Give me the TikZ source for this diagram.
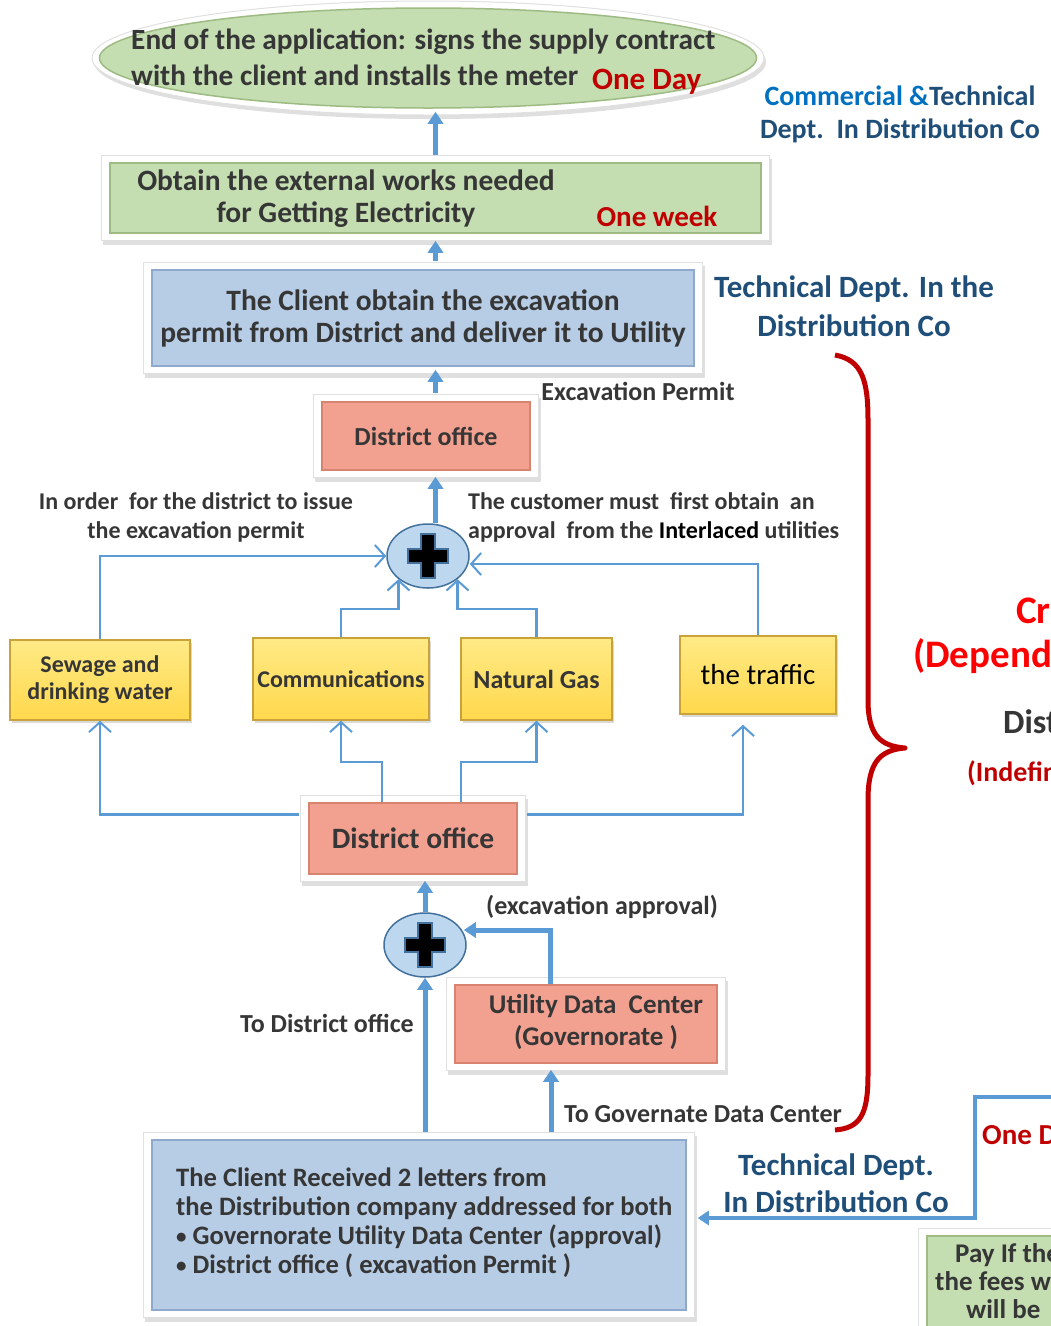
\documentclass[tikz,border=0pt]{standalone}
\usepackage{fontspec}
\setmainfont{Carlito}
\usetikzlibrary{arrows.meta,calc,shapes.geometric,shadows,backgrounds}

\definecolor{txtgray}{HTML}{363636}
\definecolor{deptblue}{HTML}{1F4E79}
\definecolor{commblue}{HTML}{0070C0}
\definecolor{linkblue}{HTML}{5B9BD5}
\definecolor{timered}{HTML}{C00000}
\definecolor{greenfill}{HTML}{C4DDB1}
\definecolor{greenedge}{HTML}{9DBB82}
\definecolor{bluefill}{HTML}{B7CDE6}
\definecolor{blueedge}{HTML}{8EA9CB}
\definecolor{salmonfill}{HTML}{F2A08F}
\definecolor{salmonedge}{HTML}{D88270}
\definecolor{yellowtop}{HTML}{FFEA86}
\definecolor{yellowbot}{HTML}{FFD84C}
\definecolor{yellowedge}{HTML}{C9A33A}
\definecolor{plusfill}{HTML}{BDD7EE}
\definecolor{plusedge}{HTML}{41719C}

\newcommand\fsz[2]{\fontsize{#1}{#2}\selectfont}
\newcommand\smallbullet{\raisebox{1.5pt}{\fsz{21}{21}\textbullet}}

\begin{document}
\begin{tikzpicture}[x=1pt,y=-1pt,
  every node/.style={text=txtgray, font=\bfseries, inner sep=0pt},
  box/.style={rectangle, line width=1.5pt},
  greenbox/.style={box, fill=greenfill, draw=greenedge},
  bluebox/.style={box, fill=bluefill, draw=blueedge},
  salmonbox/.style={box, fill=salmonfill, draw=salmonedge},
  yellowbox/.style={box, top color=yellowtop, bottom color=yellowbot, draw=yellowedge,
    drop shadow={opacity=.3,shadow xshift=2pt,shadow yshift=-3pt}},
  plusnode/.style={ellipse, minimum width=82pt, minimum height=64pt,
    fill=plusfill, draw=plusedge, line width=1.5pt,
    path picture={\draw[shift={(path picture bounding box.center)},
      fill=black, draw=plusedge, line width=1.5pt]
      (-7,-22) -- (7,-22) -- (7,-7) -- (20,-7) -- (20,7) -- (7,7) -- (7,22)
      -- (-7,22) -- (-7,7) -- (-20,7) -- (-20,-7) -- (-7,-7) -- cycle;}},
  frame/.style={fill=white, draw=black!12, line width=1pt,
    drop shadow={opacity=.25,shadow xshift=2pt,shadow yshift=-4pt}},
  bodytxt/.style={font=\bfseries\fsz{29.5}{32}},
  smalltxt/.style={font=\bfseries\fsz{24}{29}},
  notetxt/.style={font=\bfseries\fsz{26}{30}},
  depttxt/.style={font=\bfseries\fsz{31}{39}, text=deptblue},
  timetxt/.style={font=\bfseries\fsz{29}{32}, text=timered},
  bigarrow/.style={draw=linkblue, line width=5pt, -{Triangle[length=12pt,width=15pt]}},
  thinarrow/.style={draw=linkblue, line width=2.2pt,
    -{Straight Barb[length=10pt,width=22pt,line width=2pt]}},
  ]
  \useasboundingbox (0,0) rectangle (1051,1326);
  \clip (0,0) rectangle (1051,1326);

  % end of the application
  \node[ellipse, minimum width=657pt, minimum height=100pt, fill=greenfill,
    draw=greenedge, line width=1.5pt] (apply) at (428,58) {};
  \node[align=left, anchor=west, font=\bfseries\fsz{29.3}{36}] (applytxt) at (131,62)
    {End of the application: signs the supply contract\\with the client and installs the meter\hspace{14pt}\textcolor{timered}{\fsz{31}{36}\raisebox{-4pt}{One Day}}};

  % external works
  \node[greenbox, minimum width=651pt, minimum height=70pt] (works) at (435.5,198) {};
  \node[bodytxt, align=center] (workstxt) at (346,199)
    {Obtain the external works needed\\for Getting Electricity};
  \node[timetxt] (workstime) at (657,216) {One week};

  % excavation permit
  \node[bluebox, bodytxt, minimum width=542pt, minimum height=96pt, align=center] (permit) at (423,318)
    {The Client obtain the excavation\\permit from District and deliver it to Utility};
  \node[salmonbox, minimum width=208pt, minimum height=68pt, font=\bfseries\fsz{26}{30}] (dist1) at (426,436) {District office};
  \node[notetxt] (permitlbl) at (638,391) {Excavation Permit};

  \node[plusnode] (plus1) at (428,556) {};
  \node[smalltxt, align=center] (ordertxt) at (196,517)
    {In order\ \ for the district to issue\\the excavation permit};
  \node[smalltxt, align=left, anchor=west] (custtxt) at (468,517)
    {The customer must\ \ first obtain\ \ an\\approval\ \ from the \textcolor{black}{Interlaced} utilities};

  % interlaced utilities
  \node[yellowbox, minimum width=180pt, minimum height=80pt, align=center, font=\bfseries\fsz{24}{27}] (sewage) at (100,680) {Sewage and\\drinking water};
  \node[yellowbox, minimum width=176pt, minimum height=82pt, font=\bfseries\fsz{24}{27}] (comm) at (341,679) {Communications};
  \node[yellowbox, minimum width=151pt, minimum height=82pt, font=\bfseries\fsz{26}{30}] (gas) at (536.5,679) {Natural Gas};
  \node[yellowbox, minimum width=156pt, minimum height=78pt, font=\fsz{29}{32}, text=black] (traffic) at (758,675) {the traffic};

  \node[salmonbox, minimum width=208pt, minimum height=71pt, font=\bfseries\fsz{29.5}{32}] (dist2) at (413,838.5) {District office};

  % approval
  \node[plusnode] (plus2) at (425,945) {};
  \node[notetxt] (apprlbl) at (602,907) {(excavation approval)};
  \node[salmonbox, minimum width=262pt, minimum height=78pt] (udc) at (586,1024) {};
  \node[align=center, font=\bfseries\fsz{27}{32}] (udctxt) at (596,1022) {Utility Data\ \ Center\\(Governorate )};
  \node[notetxt] (distlbl) at (327,1023) {To District office};
  \node[notetxt] (govlbl) at (703,1114) {To Governate Data Center};

  \node[bluebox, minimum width=534pt, minimum height=170pt] (letters) at (419,1225) {};
  \node[align=left, anchor=west, font=\bfseries\fsz{26.6}{29}] (letterstxt) at (176,1223)
    {The Client Received 2 letters from\\the Distribution company addressed for both\\\smallbullet\ Governorate Utility Data Center (approval)\\\smallbullet\ District office ( excavation Permit )};

  % departments
  \node[font=\bfseries\fsz{28}{33}, text=deptblue, align=center] (commdept) at (900,114)
    {\textcolor{commblue}{Commercial \&}Technical\\Dept.\ \ In Distribution Co};
  \node[depttxt, align=center] (techdept) at (854,306) {Technical Dept. In the\\Distribution Co};
  \node[depttxt, font=\bfseries\fsz{31}{37}, align=center] (techdept2) at (836,1183) {Technical Dept.\\In Distribution Co};

  % right hand side
  \node[anchor=west, font=\bfseries\fsz{39}{44}, text=red] (crit) at (1016,610) {Critical Path};
  \node[anchor=west, font=\bfseries\fsz{39}{44}, text=red] (depend) at (913,656) {(Dependent on};
  \node[anchor=west, font=\bfseries\fsz{34}{40}] (distr) at (1003,722) {District};
  \node[anchor=west, font=\bfseries\fsz{28}{34}, text=timered] (indef) at (967,773) {(Indefinite)};
  \node[anchor=west, timetxt] (oneday) at (982,1137) {One Day};
  \node[greenbox, minimum width=170pt, minimum height=110pt, anchor=north west] (pay) at (926,1235) {};
  \node[anchor=north west, align=left, font=\bfseries\fsz{27}{28}] (paytxt) at (935,1243)
    {\hspace*{20pt}Pay If there are\\the fees which\\\hspace*{31pt}will be};

  % brace
  \draw[timered, line width=5pt, line join=round] (835,355) .. controls (862,360) and (868,380) .. (868,420)
    -- (868,700) .. controls (868,735) and (880,746) .. (905,748)
    .. controls (880,750) and (868,762) .. (868,800)
    -- (868,1075) .. controls (868,1115) and (860,1128) .. (835,1130);

  % main chain
  \draw[bigarrow, shorten <=7pt, shorten >=3pt] (works.north) -- (works.north |- apply.south);
  \draw[bigarrow, shorten <=8pt, shorten >=7pt] (permit.north -| works.south) -- (works.south);
  \draw[bigarrow, shorten <=8pt, shorten >=3pt] (dist1.north -| works.south) -- (permit.south -| works.south);
  \draw[bigarrow, shorten >=6pt] (plus1.north -| works.south) -- (dist1.south -| works.south);

  % utilities to the district
  \draw[thinarrow] (sewage.north) |- (plus1.west);
  \draw[thinarrow] (comm.north) -- ++(0,-28) -| (plus1.south west);
  \draw[thinarrow] (gas.north) -- ++(0,-28) -| (plus1.south east);
  \draw[thinarrow] (traffic.north) |- ($(plus1.east)+(0,8)$);

  % district office to the utilities
  \draw[thinarrow, shorten <=9pt] ($(dist2.west)+(0,-24)$) -| (sewage.south);
  \draw[thinarrow] ($(dist2.north)+(-31,0)$) -- ++(0,-40) -| (comm.south);
  \draw[thinarrow] ($(dist2.north)+(48,0)$) -- ++(0,-40) -| (gas.south);
  \draw[thinarrow, shorten <=9pt, shorten >=10pt] ($(dist2.east)+(0,-24)$) -| ($(traffic.south)+(-15,0)$);

  \draw[bigarrow, shorten >=6pt] (plus2.north) -- (plus2.north |- dist2.south);
  \draw[bigarrow] ($(udc.north)+(-36,0)$) |- ($(plus2.east)+(-3,-15)$);
  \draw[bigarrow, shorten <=7pt] (letters.north -| plus2.south) -- (plus2.south);
  \draw[bigarrow, shorten <=7pt, shorten >=6pt] ($(letters.north)+(132,0)$) -- ($(udc.south)+(-35,0)$);

  % back from the fees
  \coordinate (feesrc) at (1060,1097);
  \coordinate (feecorner) at (975,1218);
  \draw[draw=linkblue, line width=4pt, -{Triangle[length=11pt,width=14pt]}]
    (feesrc) -| (feecorner) -- ($(letters.east)+(11,-7)$);

  % white frames
  \begin{scope}[on background layer]
    \filldraw[frame] (apply.center) ellipse [x radius=336pt, y radius=57pt];
    \foreach \n in {works,permit,dist1,dist2,udc,letters,pay}
      \filldraw[frame] ($(\n.south west)+(-8pt,-7pt)$) rectangle ($(\n.north east)+(8pt,7pt)$);
  \end{scope}
\end{tikzpicture}
\end{document}
